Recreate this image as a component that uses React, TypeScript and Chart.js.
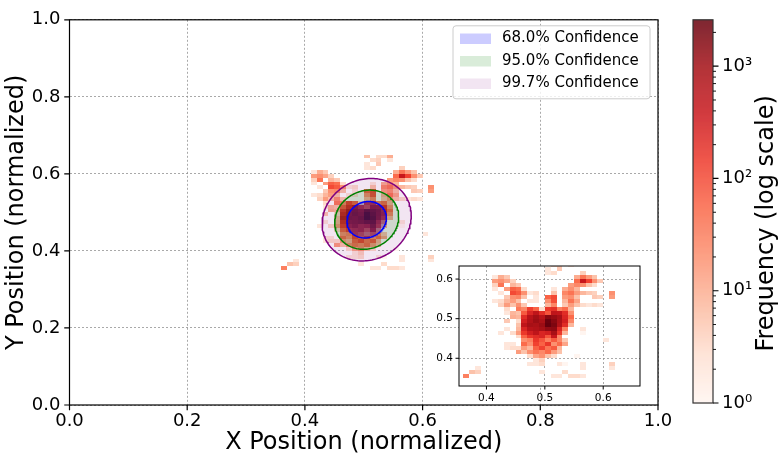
import React, { useEffect, useRef } from 'react';
import { Chart, registerables } from 'chart.js';

Chart.register(...registerables);

const FONT = "'DejaVu Sans', sans-serif";

// ---- 2D histogram (bin width 0.01) ----
const BIN_WIDTH = 0.01;
const X_BIN_EDGES = [0.36, 0.37, 0.38, 0.39, 0.40, 0.41, 0.42, 0.43, 0.44, 0.45, 0.46, 0.47, 0.48,
  0.49, 0.50, 0.51, 0.52, 0.53, 0.54, 0.55, 0.56, 0.57, 0.58, 0.59, 0.60, 0.61];
const Y_BIN_EDGES = [0.64, 0.63, 0.62, 0.61, 0.60, 0.59, 0.58, 0.57, 0.56, 0.55, 0.54, 0.53, 0.52,
  0.51, 0.50, 0.49, 0.48, 0.47, 0.46, 0.45, 0.44, 0.43, 0.42, 0.41, 0.40, 0.39, 0.38, 0.37, 0.36, 0.35];
const COUNTS = [
  [0,0,0,0,0,0,0,0,0,0,0,0,0,0,6,0,3,3,10,0,0,0,0,0,0,0],
  [0,0,0,0,0,0,0,0,0,0,0,0,0,0,0,3,4,0,2,0,0,0,0,0,0,0],
  [0,0,0,0,0,0,0,0,0,0,0,0,0,0,2,0,5,0,0,0,0,0,0,0,0,0],
  [0,0,0,0,0,0,0,0,0,0,0,0,0,0,2,3,0,0,0,0,4,0,0,0,0,0],
  [0,0,0,0,0,2,10,5,0,0,0,0,0,0,0,0,0,0,0,10,40,15,6,0,0,0],
  [0,0,0,0,0,15,20,12,4,0,0,0,0,0,0,0,0,0,0,50,400,120,20,5,0,0],
  [0,0,0,0,0,4,40,0,8,5,0,0,0,0,0,0,0,0,15,25,20,6,3,0,0,0],
  [0,0,0,0,0,2,0,15,60,45,3,0,0,0,0,2,0,10,20,8,0,0,0,0,0,0],
  [0,0,0,0,0,0,2,0,100,70,20,2,3,0,0,6,0,25,40,15,8,5,4,0,0,20],
  [0,0,0,0,0,0,0,5,20,25,6,0,2,0,60,100,0,15,20,6,0,0,5,4,0,15],
  [0,0,0,0,0,2,3,8,15,6,0,2,2,0,20,90,0,8,40,12,0,0,0,0,0,0],
  [0,0,0,0,0,0,4,15,6,20,5,0,0,0,8,25,0,5,15,6,3,2,3,2,0,0],
  [0,0,0,0,0,0,0,3,0,35,25,130,60,3,150,180,30,50,8,0,0,0,0,0,0,0],
  [0,0,0,0,0,0,0,2,8,6,70,250,500,200,80,500,450,200,20,0,0,0,0,0,0,0],
  [0,0,0,0,0,0,0,0,10,8,200,600,1000,600,1500,1200,900,250,50,0,0,0,0,0,0,0],
  [0,0,0,0,0,0,0,5,0,3,300,700,1100,800,2400,1500,800,300,25,0,0,0,0,0,0,0],
  [0,0,0,0,0,0,0,0,0,6,500,900,800,1100,2590,1800,700,200,8,0,0,0,0,0,0,0],
  [0,0,0,0,0,0,0,2,0,8,250,600,700,900,1300,1400,250,30,0,0,2,0,0,0,0,0],
  [0,0,0,0,0,0,2,0,3,15,150,300,500,250,300,900,150,8,0,0,1,0,0,0,0,0],
  [0,0,0,0,0,0,0,0,0,3,60,150,200,250,80,400,25,0,0,0,0,0,0,0,0,0],
  [0,0,0,0,0,0,0,0,0,0,20,30,150,80,30,70,25,5,0,0,0,0,0,0,2,0],
  [0,0,0,0,0,0,0,2,2,0,50,20,120,60,150,20,50,12,0,0,0,0,0,0,0,0],
  [0,0,0,0,0,0,0,2,3,3,15,8,60,120,40,70,8,0,0,0,0,0,0,0,0,0],
  [0,0,0,0,0,0,0,0,0,15,6,20,40,25,50,15,6,0,0,0,0,0,0,0,0,0],
  [0,0,0,0,0,0,0,0,0,0,0,3,12,20,6,3,0,0,0,1,0,0,0,0,0,0],
  [0,0,0,0,0,0,0,0,0,0,0,0,2,4,0,0,0,0,0,0,0,0,0,0,0,0],
  [0,0,0,0,0,0,0,0,0,0,0,2,2,3,0,0,2,1,0,0,2,0,0,0,0,4],
  [0,0,2,0,0,0,0,0,0,0,0,0,0,0,0,0,0,0,0,0,2,0,0,0,0,2],
  [0,6,4,0,0,0,0,0,0,0,0,0,0,2,0,0,0,3,0,0,0,0,0,0,0,0],
  [30,0,0,0,0,0,0,0,0,0,0,0,0,0,0,2,2,0,3,3,2,0,0,0,0,0],
];

// ---- axes ----
const MAIN_TICKS = [0.0, 0.2, 0.4, 0.6, 0.8, 1.0];
const INSET_TICKS = [0.4, 0.5, 0.6];
const INSET_X_RANGE = [0.353, 0.663];
const INSET_Y_RANGE = [0.330, 0.633];

// ---- colorbar (log) ----
const CB_MIN = 1;
const CB_MAX = 2590;
const CB_TICKS = [1, 10, 100, 1000];
const CB_TICK_LABELS = ['10⁰', '10¹', '10²', '10³'];

// ---- confidence ellipses ----
const CONF_LEVELS = [0.68, 0.95, 0.997];
const CONF_LABELS = ['68.0% Confidence', '95.0% Confidence', '99.7% Confidence'];
const CONF_FILL = ['rgba(0,0,255,0.2)', 'rgba(0,128,0,0.15)', 'rgba(128,0,128,0.1)'];
const CONF_EDGE = ['#0000ff', '#008000', '#800080'];
const ELLIPSE_CENTER = [0.505, 0.481];
const ELLIPSE_SIGMA = [0.0222, 0.0314];
const ELLIPSE_RHO = 0.1;

const REDS = [
  [255, 245, 240], [254, 224, 210], [252, 187, 161], [252, 146, 114], [251, 106, 74],
  [239, 59, 44], [203, 24, 29], [165, 15, 21], [103, 0, 13],
];

function reds(t: number) {
  const tt = Math.max(0, Math.min(1, t));
  const p = tt * (REDS.length - 1);
  const i = Math.min(REDS.length - 2, Math.floor(p));
  const f = p - i;
  const a = REDS[i], b = REDS[i + 1];
  const c = a.map((v, k) => Math.round(v + (b[k] - v) * f));
  return `rgb(${c[0]},${c[1]},${c[2]})`;
}

function countColor(c: number) {
  return reds(Math.log(c / CB_MIN) / Math.log(CB_MAX / CB_MIN));
}

function ellipsePoints(level: number) {
  const k = Math.sqrt(-2 * Math.log(1 - level));
  const [cx, cy] = ELLIPSE_CENTER;
  const [sx, sy] = ELLIPSE_SIGMA;
  const pts: { x: number; y: number }[] = [];
  const n = 160;
  for (let i = 0; i <= n; i++) {
    const t = (i / n) * 2 * Math.PI;
    const u = Math.cos(t), v = Math.sin(t);
    pts.push({
      x: cx + k * sx * u,
      y: cy + k * sy * (ELLIPSE_RHO * u + Math.sqrt(1 - ELLIPSE_RHO * ELLIPSE_RHO) * v),
    });
  }
  return pts;
}

const GRID_COLOR = 'rgba(140,140,140,0.75)';

function heatmapPlugin(whiteBg: boolean) {
  return {
    id: 'heatmap',
    beforeDraw(chart: any) {
      if (!whiteBg) return;
      const { ctx, chartArea: a } = chart;
      ctx.save();
      ctx.fillStyle = '#ffffff';
      ctx.fillRect(a.left, a.top, a.right - a.left, a.bottom - a.top);
      ctx.restore();
    },
    beforeDatasetsDraw(chart: any) {
      const { ctx, chartArea: a } = chart;
      const xs = chart.scales.x, ys = chart.scales.y;
      ctx.save();
      ctx.beginPath();
      ctx.rect(a.left, a.top, a.right - a.left, a.bottom - a.top);
      ctx.clip();
      COUNTS.forEach((row, ri) => {
        row.forEach((c, ci) => {
          if (c <= 0) return;
          const x0 = X_BIN_EDGES[ci], y0 = Y_BIN_EDGES[ri];
          const px0 = Math.round(xs.getPixelForValue(x0));
          const px1 = Math.round(xs.getPixelForValue(x0 + BIN_WIDTH));
          const py0 = Math.round(ys.getPixelForValue(y0 + BIN_WIDTH));
          const py1 = Math.round(ys.getPixelForValue(y0));
          ctx.fillStyle = countColor(c);
          ctx.fillRect(px0, py0, px1 - px0, py1 - py0);
        });
      });
      ctx.restore();
    },
  };
}

function framePlugin(tickLen: number, lw: number, xTicks: number[], yTicks: number[]) {
  return {
    id: 'frame',
    afterDraw(chart: any) {
      const { ctx, chartArea: a } = chart;
      const xs = chart.scales.x, ys = chart.scales.y;
      ctx.save();
      ctx.strokeStyle = '#000';
      ctx.lineWidth = lw;
      ctx.strokeRect(a.left, a.top, a.right - a.left, a.bottom - a.top);
      ctx.beginPath();
      xTicks.forEach((v) => {
        const p = xs.getPixelForValue(v);
        ctx.moveTo(p, a.bottom);
        ctx.lineTo(p, a.bottom + tickLen);
      });
      yTicks.forEach((v) => {
        const p = ys.getPixelForValue(v);
        ctx.moveTo(a.left, p);
        ctx.lineTo(a.left - tickLen, p);
      });
      ctx.stroke();
      ctx.restore();
    },
  };
}

const legendPlugin = {
  id: 'confLegend',
  afterDraw(chart: any) {
    const { ctx, chartArea: a } = chart;
    const w = 197, h = 73;
    const left = a.right - 8 - w;
    const top = a.top + 6;
    const r = 3;
    ctx.save();
    ctx.beginPath();
    ctx.moveTo(left + r, top);
    ctx.lineTo(left + w - r, top);
    ctx.arcTo(left + w, top, left + w, top + r, r);
    ctx.lineTo(left + w, top + h - r);
    ctx.arcTo(left + w, top + h, left + w - r, top + h, r);
    ctx.lineTo(left + r, top + h);
    ctx.arcTo(left, top + h, left, top + h - r, r);
    ctx.lineTo(left, top + r);
    ctx.arcTo(left, top, left + r, top, r);
    ctx.closePath();
    ctx.fillStyle = 'rgba(255,255,255,0.8)';
    ctx.fill();
    ctx.strokeStyle = '#cccccc';
    ctx.lineWidth = 1;
    ctx.stroke();
    ctx.font = `15px ${FONT}`;
    ctx.textBaseline = 'middle';
    ctx.textAlign = 'left';
    CONF_LABELS.forEach((lab, i) => {
      const cy = top + 12.7 + i * 22.5;
      ctx.fillStyle = CONF_FILL[i];
      ctx.fillRect(left + 7, cy - 5, 31, 10.5);
      ctx.fillStyle = '#000';
      ctx.fillText(lab, left + 49, cy);
    });
    ctx.restore();
  },
};

const colorbarPlugin = {
  id: 'colorbar',
  beforeDatasetsDraw(chart: any) {
    const { ctx, chartArea: a } = chart;
    const h = a.bottom - a.top;
    ctx.save();
    for (let i = 0; i < Math.ceil(h); i++) {
      ctx.fillStyle = reds(1 - (i + 0.5) / h);
      ctx.fillRect(a.left, a.top + i, a.right - a.left, 1);
    }
    ctx.restore();
  },
  afterDraw(chart: any) {
    const { ctx, chartArea: a } = chart;
    const ys = chart.scales.y;
    ctx.save();
    ctx.strokeStyle = '#333';
    ctx.lineWidth = 1.2;
    ctx.strokeRect(a.left, a.top, a.right - a.left, a.bottom - a.top);
    ctx.strokeStyle = '#000';
    ctx.beginPath();
    CB_TICKS.forEach((v) => {
      const p = ys.getPixelForValue(v);
      ctx.moveTo(a.right, p);
      ctx.lineTo(a.right + 5.5, p);
    });
    ctx.stroke();
    ctx.lineWidth = 0.9;
    ctx.beginPath();
    for (let d = 1; d <= 1000; d *= 10) {
      for (let m = 2; m <= 9; m++) {
        const v = m * d;
        if (v > CB_MAX) continue;
        const p = ys.getPixelForValue(v);
        ctx.moveTo(a.right, p);
        ctx.lineTo(a.right + 3, p);
      }
    }
    ctx.stroke();
    ctx.fillStyle = '#000';
    ctx.font = `24px ${FONT}`;
    ctx.textAlign = 'center';
    ctx.textBaseline = 'middle';
    ctx.translate(a.right + 54, (a.top + a.bottom) / 2 + 12);
    ctx.rotate(-Math.PI / 2);
    ctx.fillText('Frequency (log scale)', 0, 0);
    ctx.restore();
  },
};

export default function App() {
  const mainRef = useRef<HTMLCanvasElement | null>(null);
  const insetRef = useRef<HTMLCanvasElement | null>(null);
  const cbRef = useRef<HTMLCanvasElement | null>(null);

  useEffect(() => {
    document.body.style.margin = '0';
    const tickFont = { family: FONT, size: 18 };

    const main = new Chart(mainRef.current as HTMLCanvasElement, {
      type: 'line',
      data: {
        datasets: CONF_LEVELS.map((lvl, i) => ({
          label: CONF_LABELS[i],
          data: ellipsePoints(lvl),
          borderColor: CONF_EDGE[i],
          backgroundColor: CONF_FILL[i],
          borderWidth: 1.5,
          fill: 'shape',
          pointRadius: 0,
          tension: 0,
          order: i,
        })),
      } as any,
      options: {
        responsive: false,
        animation: false,
        layout: { padding: { left: 0, top: 13, right: 121, bottom: 0 } },
        plugins: { legend: { display: false }, tooltip: { enabled: false } },
        scales: {
          x: {
            type: 'linear', min: 0, max: 1, z: 1,
            afterBuildTicks: (s: any) => { s.ticks = MAIN_TICKS.map((v) => ({ value: v })); },
            afterFit: (s: any) => { s.height = 55; },
            ticks: { font: tickFont, color: '#000', padding: 6, maxRotation: 0, autoSkip: false,
              callback: (v: any) => Number(v).toFixed(1) },
            grid: { color: GRID_COLOR, lineWidth: 1, drawTicks: false },
            border: { display: false, dash: [2, 2] },
            title: { display: true, text: 'X Position (normalized)', color: '#000',
              font: { family: FONT, size: 24 }, padding: { top: 0, bottom: 3 } },
          },
          y: {
            type: 'linear', min: 0, max: 1, z: 1,
            afterBuildTicks: (s: any) => { s.ticks = MAIN_TICKS.map((v) => ({ value: v })); },
            afterFit: (s: any) => { s.width = 69.5; },
            ticks: { font: tickFont, color: '#000', padding: 9, autoSkip: false,
              callback: (v: any) => Number(v).toFixed(1) },
            grid: { color: GRID_COLOR, lineWidth: 1, drawTicks: false },
            border: { display: false, dash: [2, 2] },
            title: { display: true, text: 'Y Position (normalized)', color: '#000',
              font: { family: FONT, size: 24 }, padding: { top: 2, bottom: 0 } },
          },
        },
      } as any,
      plugins: [heatmapPlugin(false), framePlugin(5.25, 1.2, MAIN_TICKS, MAIN_TICKS), legendPlugin],
    });

    const insetFont = { family: FONT, size: 10.5 };
    const inset = new Chart(insetRef.current as HTMLCanvasElement, {
      type: 'scatter',
      data: { datasets: [{ data: [] }] },
      options: {
        responsive: false,
        animation: false,
        layout: { padding: { left: 0, top: 16, right: 10, bottom: 0 } },
        plugins: { legend: { display: false }, tooltip: { enabled: false } },
        scales: {
          x: {
            type: 'linear', min: INSET_X_RANGE[0], max: INSET_X_RANGE[1], z: 1,
            afterBuildTicks: (s: any) => { s.ticks = INSET_TICKS.map((v) => ({ value: v })); },
            afterFit: (s: any) => { s.height = 29; },
            ticks: { font: insetFont, color: '#000', padding: 6, maxRotation: 0, autoSkip: false,
              callback: (v: any) => Number(v).toFixed(1) },
            grid: { color: GRID_COLOR, lineWidth: 1, drawTicks: false },
            border: { display: false, dash: [2, 2] },
          },
          y: {
            type: 'linear', min: INSET_Y_RANGE[0], max: INSET_Y_RANGE[1], z: 1,
            afterBuildTicks: (s: any) => { s.ticks = INSET_TICKS.map((v) => ({ value: v })); },
            afterFit: (s: any) => { s.width = 39; },
            ticks: { font: insetFont, color: '#000', padding: 6, autoSkip: false,
              callback: (v: any) => Number(v).toFixed(1) },
            grid: { color: GRID_COLOR, lineWidth: 1, drawTicks: false },
            border: { display: false, dash: [2, 2] },
          },
        },
      } as any,
      plugins: [heatmapPlugin(true), framePlugin(3.5, 1, INSET_TICKS, INSET_TICKS)],
    });

    const cb = new Chart(cbRef.current as HTMLCanvasElement, {
      type: 'scatter',
      data: { datasets: [{ data: [] }] },
      options: {
        responsive: false,
        animation: false,
        layout: { padding: { left: 13, top: 15, right: 0, bottom: 57 } },
        plugins: { legend: { display: false }, tooltip: { enabled: false } },
        scales: {
          x: { display: false, min: 0, max: 1 },
          y: {
            type: 'logarithmic', position: 'right', min: CB_MIN, max: CB_MAX,
            afterBuildTicks: (s: any) => { s.ticks = CB_TICKS.map((v) => ({ value: v })); },
            afterFit: (s: any) => { s.width = 66; },
            ticks: { font: tickFont, color: '#000', padding: 9, autoSkip: false,
              callback: (_v: any, i: number) => CB_TICK_LABELS[i] },
            grid: { display: false, drawTicks: false },
            border: { display: false },
          },
        },
      } as any,
      plugins: [colorbarPlugin],
    });

    return () => {
      main.destroy();
      inset.destroy();
      cb.destroy();
    };
  }, []);

  return (
    <div style={{ position: 'relative', width: 779, height: 460, background: '#fff' }}>
      <canvas ref={mainRef} width={779} height={460}
        style={{ position: 'absolute', left: 0, top: 0, width: 779, height: 460 }} />
      <canvas ref={insetRef} width={230} height={165}
        style={{ position: 'absolute', left: 420, top: 250, width: 230, height: 165 }} />
      <canvas ref={cbRef} width={99} height={460}
        style={{ position: 'absolute', left: 680, top: 0, width: 99, height: 460 }} />
    </div>
  );
}
